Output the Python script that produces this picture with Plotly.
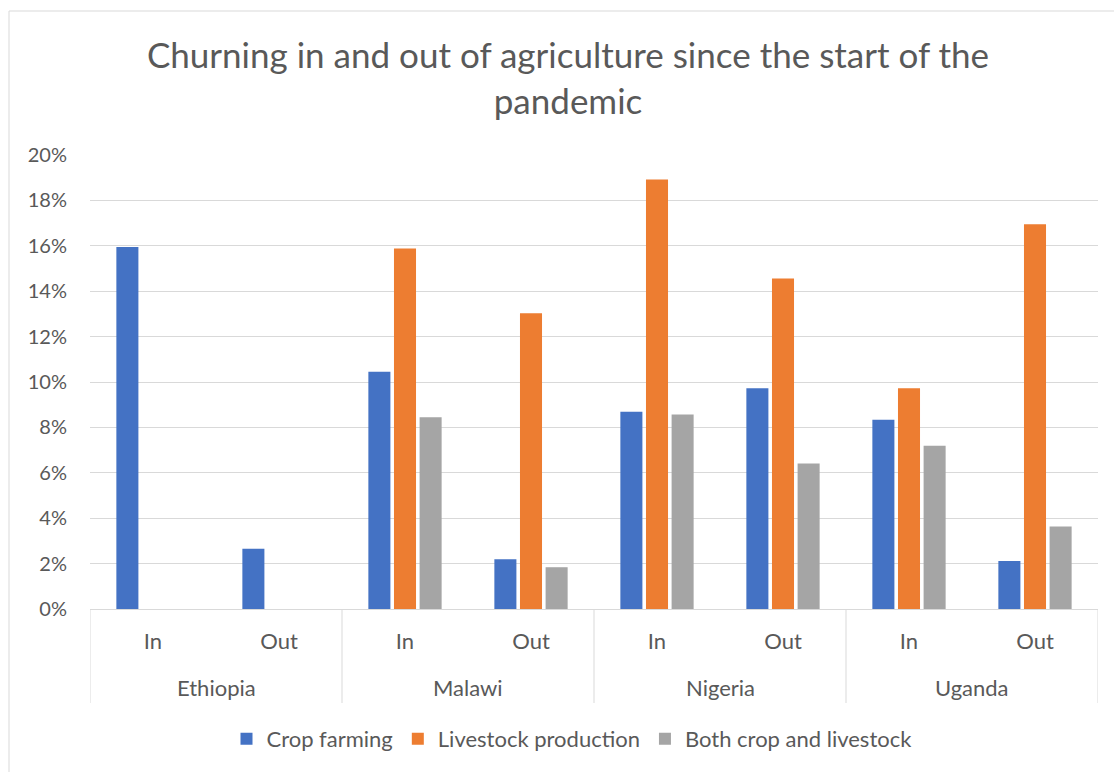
import plotly.graph_objects as go

# Survey results: share of households moving into / out of each activity (%)
countries = ["Ethiopia", "Malawi", "Nigeria", "Uganda"]
directions = ["In", "Out"]
crop_farming = [15.95, 2.65, 10.45, 2.19, 8.69, 9.72, 8.34, 2.12]
livestock_production = [None, None, 15.88, 13.03, 18.92, 14.56, 9.72, 16.95]
both_crop_livestock = [None, None, 8.45, 1.84, 8.57, 6.41, 7.19, 3.63]

series = [
    ("Crop farming", crop_farming, "#4472C4"),
    ("Livestock production", livestock_production, "#ED7D31"),
    ("Both crop and livestock", both_crop_livestock, "#A5A5A5"),
]

FONT = "Lato"
TXT = "#595959"
GRID = "#D9D9D9"

W, H = 1114, 772
L, R, T, B = 90, 16, 155, 163
PW, PH = W - L - R, H - T - B

# inner-level positions: one slot per (country, direction)
positions = list(range(len(countries) * len(directions)))
inner_labels = [d for _ in countries for d in directions]


def fx(px):
    return (px - L) / PW


def fy(py):
    return (H - B - py) / PH


fig = go.Figure()
for name, vals, color in series:
    fig.add_trace(go.Bar(
        x=positions,
        y=[None if v is None else v / 100 for v in vals],
        name=name,
        marker=dict(color=color, line=dict(width=0)),
    ))

shapes = []
# group dividers below the category axis
n_dir = len(directions)
for k in range(len(countries) + 1):
    xb = k * n_dir - 0.5
    shapes.append(dict(type="line", xref="x", yref="paper",
                       x0=xb, x1=xb, y0=0, y1=fy(703),
                       line=dict(color=GRID, width=1)))
# chart-area frame
shapes.append(dict(type="line", xref="paper", yref="paper",
                   x0=fx(9), x1=fx(9), y0=fy(11), y1=fy(800),
                   line=dict(color=GRID, width=1)))
shapes.append(dict(type="line", xref="paper", yref="paper",
                   x0=fx(9), x1=fx(1200), y0=fy(11), y1=fy(11),
                   line=dict(color=GRID, width=1)))

annotations = []
for i, c in enumerate(countries):
    annotations.append(dict(
        x=i * n_dir + (n_dir - 1) / 2, xref="x",
        y=fy(687), yref="paper", yanchor="middle", xanchor="center",
        text=c, showarrow=False, font=dict(family=FONT, size=22, color=TXT),
    ))

fig.update_layout(
    width=W, height=H,
    margin=dict(l=L, r=R, t=T, b=B),
    paper_bgcolor="white", plot_bgcolor="white",
    font=dict(family=FONT, color=TXT),
    title=dict(
        text="Churning in and out of agriculture since the start of the<br>pandemic",
        x=568 / W, xref="container", xanchor="center",
        y=1 - 68 / H, yref="container", yanchor="top",
        font=dict(family=FONT, size=35, color=TXT),
    ),
    barmode="group", bargap=0.39, bargroupgap=0.14,
    xaxis=dict(
        range=[-0.5, len(positions) - 0.5],
        tickmode="array", tickvals=positions, ticktext=inner_labels,
        showgrid=False, zeroline=False,
        showline=True, linecolor=GRID, linewidth=1,
        ticks="", ticklabelstandoff=13,
        tickfont=dict(family=FONT, size=22, color=TXT),
    ),
    yaxis=dict(
        range=[0, 0.2], dtick=0.02, tickformat=".0%",
        showgrid=True, gridcolor=GRID, gridwidth=1,
        zeroline=False, showline=False, ticks="",
        ticklabelstandoff=22,
        tickfont=dict(family=FONT, size=20, color=TXT),
    ),
    legend=dict(
        orientation="h", x=fx(572), xref="paper",
        xanchor="center", y=fy(739), yanchor="middle",
        font=dict(family=FONT, size=22, color=TXT),
        itemclick=False,
    ),
    shapes=shapes,
    annotations=annotations,
)

fig.write_html("out.html")
